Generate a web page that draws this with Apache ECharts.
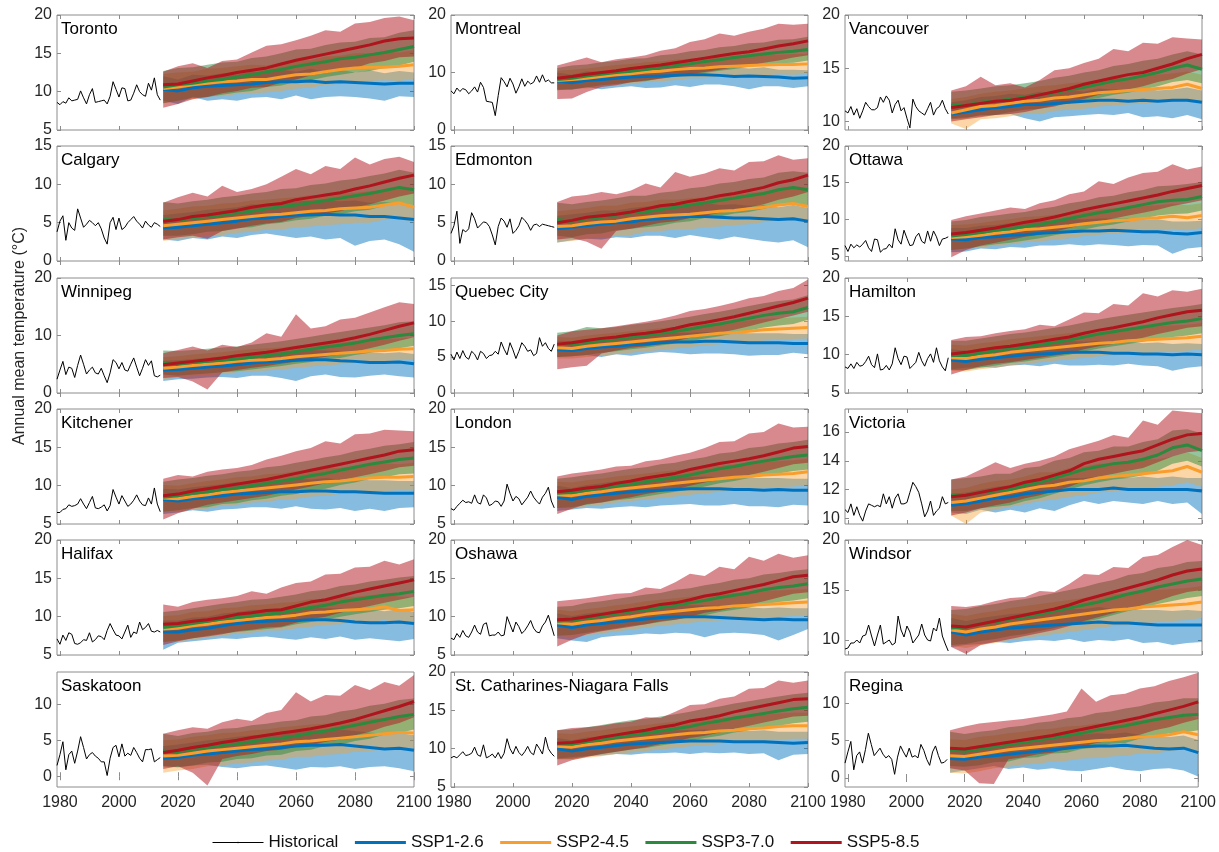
<!DOCTYPE html>
<html>
<head>
<meta charset="utf-8">
<script src="https://cdn.jsdelivr.net/npm/echarts@6/dist/echarts.min.js"></script>
<style>
  html, body { margin: 0; padding: 0; background: #fff; }
  #chart { width: 1219px; height: 852px; }
</style>
</head>
<body>
<div id="chart"></div>
<script>
// ---- Years ----
const YEARS_HIST = [1979,1980,1981,1982,1983,1984,1985,1986,1987,1988,1989,1990,1991,1992,1993,1994,1995,1996,1997,1998,1999,2000,2001,2002,2003,2004,2005,2006,2007,2008,2009,2010,2011,2012,2013,2014];
const YEARS_PROJ = [2015,2020,2025,2030,2035,2040,2045,2050,2055,2060,2065,2070,2075,2080,2085,2090,2095,2100];
const X_TICKS = [1980,2000,2020,2040,2060,2080,2100];
const SCENARIOS = ['SSP1-2.6','SSP2-4.5','SSP3-7.0','SSP5-8.5'];

// ---- Per-city data: historical annual means, scenario ensemble means and ranges (rows: SSP1-2.6, SSP2-4.5, SSP3-7.0, SSP5-8.5) ----
const TORONTO_HIST = [8.6,8.3,8.7,8.5,9.2,8.8,8.9,9.0,10.1,9.2,8.4,9.6,10.4,8.6,8.7,8.8,8.9,8.4,9.4,11.3,10.3,9.3,10.5,10.4,8.8,8.9,9.8,10.9,10.0,9.6,9.4,11.1,10.2,11.8,9.6,8.9];
const TORONTO_MEAN = [
 [10.3,10.1,10.5,10.7,10.8,10.9,11.0,11.2,11.3,11.3,11.4,11.2,11.3,11.2,11.1,11.0,11.1,11.1],
 [10.4,10.6,10.9,11.1,11.3,11.4,11.6,11.6,11.9,12.2,12.3,12.6,12.9,13.1,13.2,13.2,13.3,13.5],
 [10.6,10.9,11.1,11.4,11.6,11.9,12.2,12.6,12.9,13.3,13.6,13.9,14.3,14.5,14.8,15.1,15.5,15.9],
 [10.9,11.0,11.4,11.8,12.1,12.5,12.8,13.1,13.6,14.1,14.5,14.9,15.3,15.7,16.1,16.6,16.9,17.0]];
const TORONTO_LO = [
 [8.8,8.4,9.3,8.8,9.0,8.8,9.2,9.3,9.0,9.5,9.0,9.3,9.4,9.3,9.1,8.8,9.4,9.3],
 [8.5,8.8,9.0,9.4,9.4,9.7,9.8,9.9,10.1,10.4,10.5,10.9,11.0,11.3,11.4,11.5,11.4,11.7],
 [8.5,8.8,9.2,9.3,9.6,9.9,10.1,10.6,10.8,11.3,11.5,11.9,12.2,12.5,12.7,13.1,13.4,13.9],
 [7.9,8.4,9.0,9.3,9.8,10.1,10.5,10.6,11.2,11.6,12.1,12.4,12.9,13.1,13.7,14.0,14.5,14.6]];
const TORONTO_HI = [
 [12.0,11.6,12.2,12.1,12.4,12.2,12.6,12.5,12.9,12.6,13.0,12.6,12.9,12.5,12.8,12.4,12.7,12.5],
 [12.3,12.5,12.6,13.0,13.1,13.3,13.5,13.4,13.8,14.1,14.1,14.6,14.7,15.0,15.0,15.2,15.1,15.4],
 [12.7,13.1,13.2,13.5,13.8,13.9,14.4,14.6,15.0,15.5,15.6,16.1,16.4,16.5,17.0,17.1,17.7,18.0],
 [12.6,13.3,13.7,13.1,14.0,14.2,15.1,16.0,16.2,16.7,17.3,18.0,17.8,18.9,19.1,19.6,19.8,19.3]];

const MONTREAL_HIST = [6.8,6.3,7.3,6.7,7.2,7.0,6.3,6.8,7.5,6.6,8.3,7.4,5.0,4.9,4.8,2.5,6.0,9.1,8.4,7.5,9.0,8.0,6.4,7.5,8.9,7.6,8.5,8.0,8.3,9.4,8.3,9.6,8.4,8.7,8.2,8.2];
const MONTREAL_MEAN = [
 [8.5,8.2,8.6,8.8,9.0,9.2,9.3,9.4,9.5,9.6,9.6,9.5,9.3,9.4,9.3,9.2,9.0,9.1],
 [8.6,8.8,9.0,9.3,9.6,9.8,10.1,10.2,10.5,10.7,10.8,11.0,11.1,11.2,11.3,11.4,11.4,11.5],
 [8.8,9.0,9.4,9.7,10.0,10.2,10.5,10.9,11.2,11.5,11.9,12.2,12.6,12.9,13.2,13.5,13.7,14.0],
 [9.0,9.3,9.7,10.0,10.3,10.7,11.0,11.3,11.7,12.1,12.5,12.9,13.3,13.6,14.1,14.6,15.0,15.5]];
const MONTREAL_LO = [
 [7.1,7.0,7.5,7.1,7.4,7.6,7.3,7.4,7.8,7.5,7.9,7.9,7.6,7.1,7.6,7.6,7.3,7.6],
 [6.9,7.2,7.2,7.6,7.9,8.0,8.4,8.5,8.7,9.0,9.0,9.3,9.3,9.5,9.5,9.7,9.6,9.8],
 [6.9,7.1,7.4,7.8,8.0,8.3,8.5,9.0,9.2,9.6,9.9,10.3,10.6,11.0,11.2,11.6,11.7,12.1],
 [5.4,5.5,6.6,7.5,7.8,8.3,8.6,8.9,9.3,9.7,10.1,10.5,10.9,11.2,11.7,12.1,12.6,13.0]];
const MONTREAL_HI = [
 [10.0,9.6,10.2,10.1,10.5,10.5,10.8,10.6,11.0,10.9,11.1,10.8,10.9,10.7,10.9,10.5,10.5,10.4],
 [10.3,10.5,10.7,11.0,11.3,11.5,11.8,11.9,12.2,12.4,12.6,12.7,12.9,12.9,13.1,13.1,13.2,13.2],
 [10.8,11.2,11.4,11.8,12.0,12.4,12.5,13.0,13.2,13.7,13.9,14.4,14.6,15.1,15.2,15.7,15.8,16.2],
 [11.2,11.9,12.6,11.8,12.3,12.6,13.0,13.8,14.2,15.3,15.8,16.8,16.4,17.1,17.6,18.5,18.3,18.5]];

const VANCOUVER_HIST = [11.0,10.8,11.4,10.6,11.2,10.3,11.0,11.8,11.4,11.1,11.1,11.3,12.3,11.8,12.4,12.0,10.8,11.6,12.0,11.0,11.3,10.3,9.4,12.1,11.4,11.0,10.8,10.6,11.2,11.8,10.6,11.2,11.4,12.0,11.2,10.7];
const VANCOUVER_MEAN = [
 [10.7,10.9,11.1,11.3,11.4,11.6,11.6,11.7,11.8,11.9,12.0,12.0,11.9,12.0,11.9,12.0,12.0,11.8],
 [10.8,11.1,11.4,11.5,11.7,11.9,12.0,12.2,12.3,12.5,12.7,12.8,12.9,13.0,13.1,13.2,13.5,13.1],
 [11.5,11.5,11.8,11.9,12.1,12.3,12.5,12.7,13.0,13.2,13.5,13.8,14.0,14.3,14.6,15.0,15.3,14.9],
 [11.3,11.5,11.7,11.9,12.0,12.2,12.5,12.8,13.1,13.5,13.8,14.1,14.4,14.6,15.0,15.4,15.9,16.3]];
const VANCOUVER_LO = [
 [10.3,10.4,10.5,10.6,10.7,10.3,10.0,10.4,10.5,10.6,10.7,10.6,10.8,10.4,10.5,10.3,10.6,10.2],
 [9.8,9.3,10.2,10.3,10.5,10.7,10.7,11.0,11.1,11.2,11.4,11.5,11.6,11.7,11.8,11.9,12.1,11.8],
 [10.2,10.3,10.6,10.6,10.9,11.1,11.2,11.5,11.7,12.0,12.2,12.5,12.7,13.0,13.3,13.7,13.9,13.6],
 [10.0,10.2,10.4,10.6,10.7,10.9,11.2,11.4,11.8,12.1,12.5,12.8,13.0,13.3,13.7,14.0,14.5,14.9]];
const VANCOUVER_HI = [
 [11.8,12.0,12.3,12.4,12.6,12.5,12.8,12.7,13.0,12.8,13.1,13.0,13.0,13.1,12.9,13.0,13.2,12.9],
 [12.1,12.3,12.6,12.8,12.9,13.1,13.3,13.4,13.6,13.7,13.9,14.1,14.1,14.3,14.4,14.5,14.7,14.4],
 [12.8,12.9,13.1,13.3,13.4,13.6,13.8,14.1,14.3,14.6,14.8,15.2,15.4,15.7,15.9,16.3,16.6,16.3],
 [12.9,13.3,14.2,13.4,13.6,13.2,13.9,14.8,15.0,15.5,15.9,16.8,16.6,17.4,17.3,17.9,17.8,17.7]];

const CALGARY_HIST = [3.8,5.2,5.9,2.7,5.0,4.3,4.0,6.8,5.6,4.4,4.8,5.3,5.0,4.6,5.0,4.2,3.0,2.2,5.0,5.7,4.1,5.6,4.1,4.4,5.0,5.4,5.8,5.2,4.8,4.3,5.2,4.7,4.4,5.0,4.8,4.5];
const CALGARY_MEAN = [
 [4.3,4.4,4.6,4.8,5.0,5.2,5.5,5.6,5.8,6.0,6.0,6.1,6.0,6.0,5.8,5.8,5.6,5.4],
 [4.6,4.8,5.0,5.2,5.4,5.6,5.8,6.0,6.1,6.3,6.5,6.6,6.8,6.9,7.0,7.3,7.6,7.0],
 [5.4,5.3,5.6,5.8,6.0,6.3,6.5,6.8,7.1,7.3,7.6,7.9,8.2,8.5,8.8,9.2,9.6,9.3],
 [5.2,5.4,5.8,6.0,6.3,6.6,7.0,7.3,7.5,8.0,8.3,8.6,8.9,9.4,9.8,10.3,10.8,11.2]];
const CALGARY_LO = [
 [2.8,2.6,3.0,2.8,3.2,3.0,3.4,3.6,3.3,3.0,3.2,2.8,3.0,2.0,2.6,2.8,2.2,1.2],
 [2.6,2.9,3.0,3.3,3.4,3.7,3.8,4.1,4.1,4.4,4.5,4.7,4.8,5.0,5.0,5.4,5.6,5.0],
 [3.3,3.3,3.5,3.8,3.9,4.3,4.4,4.8,5.0,5.3,5.5,5.9,6.1,6.5,6.7,7.2,7.5,7.3],
 [2.8,3.1,3.3,2.9,3.9,4.2,4.6,4.9,5.1,5.6,5.9,6.2,6.5,7.0,7.4,7.9,8.4,8.8]];
const CALGARY_HI = [
 [6.0,6.2,6.4,6.7,6.8,7.0,7.4,7.3,7.7,7.8,7.9,7.9,7.8,7.9,7.6,7.7,7.5,7.3],
 [6.6,6.8,7.1,7.2,7.5,7.6,7.9,8.0,8.2,8.3,8.6,8.6,8.9,8.9,9.1,9.3,9.7,9.0],
 [7.7,7.5,7.8,8.0,8.3,8.5,8.8,9.0,9.4,9.5,9.9,10.1,10.5,10.7,11.1,11.4,11.9,11.5],
 [7.6,8.3,8.9,8.4,9.8,9.0,9.4,10.0,11.0,12.0,11.3,12.4,12.0,13.5,12.6,13.3,13.6,12.9]];

const EDMONTON_HIST = [3.6,4.6,6.5,2.3,4.1,3.8,4.2,6.3,5.5,4.3,4.7,5.1,5.0,4.5,3.4,2.1,4.5,5.6,5.2,4.4,5.5,3.6,4.0,4.6,5.7,5.3,4.8,4.0,4.7,4.8,4.5,4.8,4.7,4.6,4.5,4.4];
const EDMONTON_MEAN = [
 [4.2,4.4,4.6,4.8,5.0,5.1,5.4,5.5,5.7,5.8,5.8,5.7,5.6,5.6,5.5,5.4,5.5,5.2],
 [4.5,4.6,4.9,5.1,5.2,5.5,5.7,5.9,6.0,6.1,6.3,6.5,6.6,6.8,7.0,7.3,7.5,7.1],
 [5.4,5.2,5.5,5.7,6.0,6.3,6.4,6.7,7.0,7.3,7.6,7.9,8.2,8.5,8.8,9.3,9.6,9.3],
 [5.0,5.3,5.7,5.9,6.1,6.4,6.8,7.2,7.4,7.8,8.1,8.5,8.8,9.2,9.6,10.2,10.6,11.2]];
const EDMONTON_LO = [
 [2.4,2.7,2.9,2.8,3.1,3.0,3.3,3.3,3.0,3.4,3.1,2.8,3.2,2.9,2.6,2.4,2.7,1.8],
 [2.4,2.6,2.9,3.0,3.3,3.4,3.8,3.9,4.1,4.1,4.4,4.5,4.7,4.8,5.1,5.3,5.5,5.1],
 [3.3,3.1,3.5,3.6,4.0,4.2,4.4,4.6,5.0,5.2,5.6,5.8,6.2,6.4,6.8,7.2,7.6,7.2],
 [2.8,3.0,2.5,1.6,3.9,4.2,4.6,5.0,5.2,5.6,5.9,6.3,6.6,7.0,7.4,8.0,8.4,9.0]];
const EDMONTON_HI = [
 [5.9,6.1,6.3,6.6,6.6,6.9,7.1,7.1,7.4,7.4,7.6,7.3,7.4,7.2,7.3,7.0,7.3,6.9],
 [6.5,6.7,6.9,7.2,7.2,7.6,7.7,8.0,8.0,8.2,8.3,8.6,8.6,8.9,9.0,9.4,9.5,9.2],
 [7.6,7.4,7.7,7.9,8.2,8.5,8.5,8.9,9.1,9.5,9.7,10.1,10.3,10.7,10.9,11.5,11.7,11.5],
 [7.7,8.4,8.6,9.0,8.7,9.2,10.1,9.6,11.6,11.0,11.4,12.1,11.8,12.9,13.0,13.8,13.2,13.4]];

const OTTAWA_HIST = [6.4,5.6,6.6,6.1,6.5,6.2,6.6,7.1,6.1,5.6,7.3,7.2,5.5,5.9,6.0,6.6,6.1,8.7,7.2,6.6,8.5,7.4,6.4,6.5,7.6,8.1,7.0,6.7,8.4,7.0,8.4,7.6,6.4,7.3,7.4,7.6];
const OTTAWA_MEAN = [
 [7.3,7.2,7.5,7.6,7.8,7.9,8.1,8.2,8.3,8.4,8.4,8.5,8.4,8.3,8.3,8.1,8.0,8.2],
 [7.5,7.6,7.8,8.1,8.3,8.6,8.7,8.9,9.1,9.4,9.6,9.8,9.9,10.1,10.2,10.4,10.2,10.5],
 [7.7,7.9,8.2,8.5,8.7,9.0,9.3,9.7,10.1,10.5,10.9,11.2,11.6,12.0,12.4,12.6,12.7,13.1],
 [8.0,8.2,8.5,8.8,9.2,9.6,9.9,10.3,10.8,11.3,11.7,12.1,12.5,12.9,13.3,13.8,14.2,14.6]];
const OTTAWA_LO = [
 [5.5,5.6,6.0,5.9,6.2,6.1,6.4,6.4,6.6,6.4,6.6,6.5,6.3,6.5,6.4,5.3,6.0,6.2],
 [5.8,6.0,6.1,6.4,6.6,6.9,7.0,7.2,7.4,7.7,7.9,8.1,8.2,8.4,8.5,8.7,8.5,8.8],
 [5.8,6.0,6.3,6.6,6.8,7.1,7.4,7.8,8.2,8.6,9.0,9.3,9.7,10.1,10.5,10.7,10.8,11.2],
 [4.8,5.8,6.4,6.8,7.2,7.6,7.9,8.3,8.8,9.3,9.7,10.1,10.5,10.9,11.3,11.8,12.2,12.6]];
const OTTAWA_HI = [
 [8.8,8.8,9.1,9.2,9.5,9.5,9.8,9.8,10.0,10.0,10.1,10.1,10.1,9.9,10.0,9.7,9.7,9.8],
 [9.2,9.3,9.5,9.8,10.0,10.3,10.4,10.6,10.8,11.1,11.3,11.5,11.6,11.8,11.9,12.1,11.9,12.2],
 [9.7,9.9,10.3,10.5,10.8,11.0,11.4,11.7,12.2,12.5,13.0,13.2,13.7,14.0,14.5,14.6,14.8,15.1],
 [9.9,10.4,10.8,11.2,11.6,11.4,12.2,12.6,13.4,13.8,15.2,14.8,15.7,16.3,16.5,17.5,16.8,17.2]];

const WINNIPEG_HIST = [2.4,4.0,5.5,3.2,4.5,4.3,2.7,4.8,6.6,5.0,3.3,4.0,4.5,3.5,3.3,4.3,3.0,1.8,3.5,5.8,5.3,4.2,5.3,4.0,3.8,5.0,6.1,4.5,3.0,4.3,5.8,4.8,5.6,3.0,2.8,3.1];
const WINNIPEG_MEAN = [
 [4.0,4.1,4.3,4.5,4.7,4.9,5.2,5.4,5.5,5.7,5.8,5.8,5.6,5.5,5.3,5.3,5.4,5.1],
 [4.3,4.5,4.8,5.0,5.2,5.5,5.7,5.8,6.0,6.3,6.5,6.7,6.9,7.1,7.3,7.4,7.6,7.7],
 [5.3,5.1,5.3,5.5,5.7,5.9,6.2,6.5,6.8,7.2,7.6,8.0,8.3,8.7,9.2,9.6,10.0,10.3],
 [4.9,5.2,5.5,5.8,6.1,6.5,6.8,7.1,7.5,7.9,8.3,8.7,9.1,9.6,10.2,10.9,11.6,12.2]];
const WINNIPEG_LO = [
 [2.1,2.4,2.5,2.7,2.8,2.6,3.0,3.0,2.6,2.1,2.9,3.2,2.8,2.7,3.0,3.2,2.9,2.7],
 [2.4,2.7,2.9,3.1,3.3,3.6,3.8,3.9,4.1,4.4,4.6,4.8,5.0,5.2,5.4,5.5,5.7,5.8],
 [3.2,3.0,3.2,3.4,3.6,3.8,4.1,4.4,4.7,5.1,5.4,5.9,6.1,6.6,7.0,7.5,7.8,8.2],
 [2.6,2.8,2.0,0.6,3.6,4.0,4.4,4.7,5.1,5.5,5.9,6.3,6.7,7.2,7.8,8.4,9.1,9.7]];
const WINNIPEG_HI = [
 [5.6,5.7,5.9,6.1,6.4,6.5,6.9,7.0,7.2,7.3,7.5,7.4,7.3,7.1,7.1,6.9,7.1,6.8],
 [6.2,6.4,6.7,6.9,7.1,7.4,7.6,7.8,7.9,8.2,8.4,8.6,8.8,9.0,9.2,9.3,9.5,9.6],
 [7.4,7.3,7.5,7.7,7.9,8.1,8.4,8.7,9.0,9.4,9.8,10.2,10.6,11.0,11.4,11.8,12.3,12.5],
 [6.9,7.5,8.1,7.4,8.4,8.0,8.8,10.4,9.8,13.7,11.2,11.6,12.8,13.1,14.0,14.9,15.8,15.5]];

const QUEBEC_HIST = [5.4,4.6,5.7,4.8,5.9,5.0,4.7,5.8,5.4,4.6,5.8,5.5,4.8,5.2,5.3,5.8,5.4,7.1,6.1,5.3,7.0,6.0,4.8,5.8,7.0,6.5,5.8,6.0,5.2,5.5,7.7,6.5,7.0,6.2,5.8,6.8];
const QUEBEC_MEAN = [
 [6.0,5.9,6.2,6.4,6.5,6.7,6.8,7.0,7.1,7.1,7.2,7.2,7.1,7.0,7.0,7.0,6.9,6.9],
 [6.3,6.2,6.5,6.7,6.9,7.1,7.3,7.5,7.7,7.9,8.1,8.3,8.4,8.6,8.8,8.9,9.0,9.1],
 [6.7,6.8,7.0,7.3,7.5,7.8,8.0,8.3,8.6,8.9,9.3,9.6,10.0,10.4,10.8,11.1,11.3,11.9],
 [6.8,7.0,7.3,7.6,7.8,8.1,8.3,8.6,9.0,9.5,9.8,10.2,10.6,11.1,11.6,12.1,12.6,13.2]];
const QUEBEC_LO = [
 [5.0,5.1,5.3,5.0,5.4,5.2,5.5,5.7,5.6,5.4,5.5,5.5,5.4,5.2,5.3,5.3,5.6,5.4],
 [4.8,4.8,5.0,5.2,5.4,5.6,5.8,6.0,6.2,6.4,6.6,6.8,6.9,7.1,7.3,7.4,7.5,7.6],
 [5.0,5.1,5.3,5.6,5.8,6.1,6.3,6.6,6.9,7.2,7.6,7.9,8.3,8.7,9.1,9.4,9.6,10.2],
 [3.3,3.6,3.8,5.5,5.9,6.3,6.5,6.8,7.2,7.7,8.0,8.4,8.8,9.3,9.8,10.3,10.8,11.3]];
const QUEBEC_HI = [
 [7.3,7.2,7.5,7.7,7.8,8.0,8.1,8.3,8.4,8.4,8.5,8.5,8.4,8.3,8.3,8.3,8.2,8.2],
 [7.8,7.7,8.0,8.2,8.4,8.6,8.8,9.0,9.2,9.4,9.6,9.8,9.9,10.1,10.3,10.4,10.5,10.6],
 [8.4,8.6,9.2,9.0,9.2,9.5,9.7,10.0,10.3,10.6,11.0,11.3,11.7,12.1,12.5,12.8,13.0,13.6],
 [8.0,8.6,8.8,9.0,9.3,9.6,9.9,10.3,10.8,11.4,11.7,12.1,12.6,13.2,13.5,14.2,14.6,15.8]];

const HAMILTON_HIST = [8.4,8.2,8.8,8.2,9.0,8.5,8.6,9.1,9.8,8.7,8.3,10.1,8.0,8.1,8.6,8.0,8.8,10.9,9.5,8.7,9.8,9.7,8.2,8.6,9.0,10.3,9.2,8.5,9.5,10.1,9.0,10.9,9.2,8.4,7.9,9.6];
const HAMILTON_MEAN = [
 [9.3,9.1,9.4,9.6,9.8,10.0,10.1,10.2,10.3,10.3,10.3,10.2,10.2,10.1,10.1,10.0,10.1,10.0],
 [9.6,9.5,9.8,10.0,10.3,10.5,10.7,10.9,11.1,11.3,11.5,11.6,11.8,11.9,12.0,12.1,12.2,12.4],
 [9.9,9.9,10.2,10.5,10.8,11.0,11.3,11.6,11.9,12.3,12.7,13.0,13.3,13.6,13.9,14.2,14.4,14.7],
 [10.1,10.3,10.6,10.9,11.1,11.4,11.7,12.0,12.3,12.8,13.2,13.5,13.9,14.3,14.8,15.2,15.6,15.8]];
const HAMILTON_LO = [
 [8.1,8.3,8.4,8.3,8.6,8.7,8.5,8.8,8.6,8.6,8.7,8.6,8.8,8.6,8.5,7.9,8.3,8.5],
 [7.9,7.8,8.1,8.3,8.6,8.8,9.0,9.2,9.4,9.6,9.8,9.9,10.1,10.2,10.3,10.4,10.5,10.7],
 [8.0,8.0,8.3,8.6,8.9,9.1,9.4,9.7,10.0,10.4,10.8,11.1,11.4,11.7,12.0,12.3,12.5,12.8],
 [7.4,8.0,8.5,8.8,9.0,9.3,9.6,9.9,10.2,10.7,11.1,11.4,11.8,12.2,12.7,13.1,13.5,13.7]];
const HAMILTON_HI = [
 [10.7,10.5,10.8,11.0,11.3,11.4,11.6,11.6,11.8,11.7,11.8,11.6,11.7,11.5,11.6,11.4,11.5,11.4],
 [11.3,11.2,11.5,11.7,12.0,12.2,12.4,12.6,12.8,13.0,13.2,13.3,13.5,13.6,13.7,13.8,13.9,14.1],
 [11.8,11.8,12.1,12.4,12.7,12.9,13.2,13.5,13.8,14.2,14.6,14.9,15.2,15.5,15.8,16.1,16.3,16.6],
 [11.9,12.3,12.4,12.8,13.1,13.3,13.9,13.7,14.6,15.5,15.4,16.6,16.4,18.0,17.6,18.4,18.2,18.6]];

const KITCHENER_HIST = [6.5,6.5,6.9,7.0,7.5,7.3,7.4,7.6,8.3,7.6,7.0,7.8,8.6,7.1,7.0,7.2,7.5,6.7,7.4,9.5,8.5,7.6,8.7,8.0,7.3,7.6,8.1,8.8,8.0,7.5,7.4,8.4,7.6,9.7,7.6,6.6];
const KITCHENER_MEAN = [
 [8.2,8.0,8.3,8.5,8.7,8.9,9.0,9.1,9.2,9.2,9.3,9.3,9.2,9.2,9.1,9.0,9.0,9.0],
 [8.4,8.3,8.6,8.8,9.1,9.3,9.5,9.7,9.9,10.1,10.3,10.5,10.6,10.8,11.0,11.1,11.1,11.2],
 [8.5,8.7,9.0,9.2,9.5,9.7,10.0,10.3,10.6,10.9,11.3,11.6,12.0,12.4,12.8,13.1,13.4,13.6],
 [8.7,8.9,9.3,9.6,9.9,10.2,10.5,10.8,11.2,11.6,12.0,12.4,12.8,13.2,13.6,14.0,14.5,14.7]];
const KITCHENER_LO = [
 [6.3,6.5,6.8,6.6,6.9,7.0,7.2,7.2,7.0,7.3,7.0,6.9,7.1,6.7,7.0,6.7,7.1,7.2],
 [6.7,6.6,6.9,7.0,7.4,7.5,7.8,7.9,8.2,8.3,8.6,8.7,8.9,9.0,9.3,9.3,9.4,9.4],
 [6.6,6.8,7.1,7.2,7.6,7.7,8.1,8.3,8.7,8.9,9.4,9.6,10.1,10.4,10.9,11.1,11.5,11.6],
 [5.6,6.4,7.0,7.5,7.8,8.1,8.4,8.7,9.1,9.5,9.9,10.3,10.7,11.1,11.5,11.9,12.4,12.6]];
const KITCHENER_HI = [
 [9.6,9.5,9.8,10.0,10.2,10.5,10.5,10.7,10.7,10.9,10.8,11.0,10.8,10.9,10.7,10.7,10.6,10.6],
 [10.1,10.0,10.3,10.6,10.8,11.1,11.2,11.5,11.6,11.9,12.0,12.3,12.3,12.6,12.7,12.9,12.8,13.0],
 [10.5,10.8,11.0,11.3,11.5,11.8,12.0,12.4,12.6,13.0,13.3,13.7,14.0,14.5,14.8,15.2,15.4,15.7],
 [10.9,11.4,11.2,11.8,12.1,12.3,12.7,13.4,13.9,14.5,14.9,15.8,15.5,16.7,16.8,17.3,17.2,17.1]];

const LONDON_HIST = [7.0,6.8,7.3,7.7,8.1,7.8,7.9,7.7,8.8,7.8,7.6,8.8,8.4,7.4,7.6,8.0,7.9,7.3,8.0,10.2,9.0,8.0,8.6,8.3,7.5,8.0,8.5,9.3,8.5,8.0,7.6,8.5,9.0,9.8,8.0,7.1];
const LONDON_MEAN = [
 [8.5,8.2,8.6,8.8,9.0,9.2,9.3,9.4,9.5,9.6,9.6,9.6,9.5,9.5,9.4,9.5,9.4,9.4],
 [8.8,8.7,9.0,9.2,9.5,9.7,9.9,10.1,10.3,10.5,10.7,10.9,11.1,11.2,11.4,11.5,11.6,11.8],
 [9.0,9.1,9.4,9.7,10.0,10.2,10.5,10.8,11.1,11.4,11.8,12.2,12.5,12.9,13.2,13.5,13.8,14.0],
 [9.2,9.4,9.7,9.9,10.3,10.6,11.0,11.3,11.6,12.1,12.5,12.9,13.2,13.5,13.9,14.4,14.9,15.1]];
const LONDON_LO = [
 [6.7,6.9,7.1,7.0,7.2,7.3,7.2,7.4,7.5,7.6,7.4,7.4,7.6,7.3,7.3,7.2,7.5,7.4],
 [7.1,7.0,7.3,7.5,7.8,8.0,8.2,8.4,8.6,8.8,9.0,9.2,9.4,9.5,9.7,9.8,9.9,10.1],
 [7.1,7.2,7.5,7.8,8.1,8.3,8.6,8.9,9.2,9.5,9.9,10.3,10.6,11.0,11.3,11.6,11.9,12.1],
 [6.3,7.0,7.6,7.8,8.2,8.5,8.9,9.2,9.5,10.0,10.4,10.8,11.1,11.4,11.8,12.3,12.8,13.0]];
const LONDON_HI = [
 [10.0,9.7,10.1,10.3,10.6,10.7,10.9,10.9,11.1,11.1,11.2,11.1,11.1,11.0,11.0,11.0,10.9,10.9],
 [10.5,10.4,10.7,10.9,11.2,11.4,11.6,11.8,12.0,12.2,12.4,12.6,12.8,12.9,13.1,13.2,13.3,13.5],
 [10.9,11.1,11.4,11.6,11.9,12.2,12.4,12.8,13.0,13.4,13.7,14.2,14.4,14.9,15.1,15.5,15.7,16.0],
 [11.2,11.6,11.8,12.1,12.5,12.6,13.2,13.4,13.9,14.3,14.9,15.7,15.8,16.8,17.0,18.1,17.6,17.7]];

const VICTORIA_HIST = [10.6,10.4,11.0,10.2,10.8,10.2,9.8,10.5,11.0,10.9,10.8,10.9,10.8,11.7,11.0,11.5,10.7,11.4,11.7,11.0,11.0,11.1,11.8,12.5,12.2,11.8,11.0,10.1,10.5,11.2,10.2,10.5,10.7,11.5,11.0,11.1];
const VICTORIA_MEAN = [
 [10.9,11.0,11.2,11.4,11.5,11.7,11.8,11.9,12.0,12.0,12.0,12.1,12.0,12.0,12.0,12.0,12.0,11.9],
 [11.1,11.2,11.4,11.6,11.8,12.0,12.2,12.3,12.5,12.6,12.8,12.9,13.0,13.1,13.2,13.3,13.6,13.2],
 [11.6,11.6,11.8,11.9,12.0,12.3,12.5,12.8,13.1,13.4,13.6,13.8,13.9,14.1,14.4,14.9,15.1,14.7],
 [11.5,11.6,11.8,12.0,12.2,12.5,12.7,13.0,13.3,13.8,14.1,14.3,14.5,14.7,15.1,15.5,15.8,15.9]];
const VICTORIA_LO = [
 [10.4,10.3,10.6,10.4,10.6,10.4,10.7,10.5,10.9,11.2,11.0,11.2,11.1,11.0,11.2,11.0,11.1,10.3],
 [10.2,9.6,10.4,10.6,10.8,11.0,11.2,11.3,11.5,11.6,11.8,11.9,12.0,12.1,12.2,12.3,12.5,12.2],
 [10.5,10.5,10.7,10.8,10.9,11.2,11.4,11.7,12.0,12.3,12.5,12.7,12.8,13.0,13.3,13.8,14.0,13.6],
 [10.2,10.4,10.7,10.9,11.1,11.4,11.6,11.9,12.2,12.6,12.9,13.1,13.3,13.5,13.9,14.3,14.6,14.7]];
const VICTORIA_HI = [
 [11.7,11.8,12.0,12.2,12.3,12.5,12.6,12.7,12.8,12.8,12.9,12.9,12.8,12.9,12.8,12.9,12.8,12.8],
 [12.0,12.1,12.4,12.6,12.7,12.9,13.2,13.2,13.5,13.6,13.8,13.8,14.0,14.1,14.1,14.3,14.6,14.2],
 [12.7,12.8,12.9,13.1,13.1,13.5,13.6,14.0,14.2,14.6,14.7,15.0,15.0,15.3,15.5,16.1,16.2,15.9],
 [12.7,12.9,13.4,13.9,13.5,13.8,14.0,14.3,14.8,15.1,15.4,15.8,15.6,16.8,16.5,17.5,17.4,17.3]];

const HALIFAX_HIST = [7.1,6.4,7.6,6.9,7.9,7.7,6.5,6.4,6.6,7.0,6.9,7.9,6.7,7.0,7.5,7.4,7.0,8.2,9.1,8.3,7.6,7.5,7.1,8.0,8.9,7.3,8.0,7.8,9.3,8.3,8.6,9.1,8.1,8.0,8.2,8.0];
const HALIFAX_MEAN = [
 [8.0,8.0,8.3,8.5,8.8,9.1,9.3,9.4,9.5,9.5,9.6,9.6,9.5,9.3,9.2,9.2,9.3,9.1],
 [8.4,8.5,8.8,9.0,9.3,9.5,9.7,9.9,10.0,10.2,10.5,10.6,10.8,10.9,11.0,11.3,10.8,10.9],
 [8.6,8.8,9.1,9.4,9.7,9.9,10.1,10.3,10.5,10.9,11.2,11.5,11.9,12.2,12.5,12.8,13.0,13.3],
 [9.0,9.1,9.4,9.6,9.9,10.3,10.5,10.8,10.9,11.4,11.9,12.2,12.7,13.2,13.6,14.0,14.4,14.8]];
const HALIFAX_LO = [
 [5.7,6.6,6.8,7.0,7.2,7.1,7.3,7.4,7.2,7.0,7.3,7.1,7.4,7.0,7.2,7.0,6.8,7.1],
 [6.7,6.8,7.0,7.3,7.5,7.8,7.9,8.2,8.2,8.5,8.7,8.9,9.0,9.2,9.2,9.6,9.0,9.2],
 [6.7,6.9,7.2,7.5,7.8,8.0,8.2,8.4,8.6,9.0,9.3,9.6,10.0,10.3,10.6,10.9,11.1,11.4],
 [6.3,6.8,7.2,7.4,7.7,8.1,8.3,8.6,8.7,9.2,9.7,10.0,10.5,11.0,11.4,11.8,12.2,12.6]];
const HALIFAX_HI = [
 [9.5,9.5,9.9,10.0,10.4,10.6,10.9,10.9,11.1,11.0,11.2,11.1,11.1,10.8,10.9,10.7,11.0,10.6],
 [10.1,10.2,10.6,10.7,11.1,11.2,11.5,11.6,11.8,11.9,12.3,12.3,12.6,12.6,12.8,13.0,12.6,12.6],
 [10.6,10.8,11.1,11.4,11.7,11.9,12.2,12.3,12.6,12.9,13.3,13.5,14.0,14.2,14.6,14.8,15.1,15.3],
 [11.6,11.3,11.9,12.2,12.4,12.7,13.3,13.0,13.8,14.4,14.6,15.5,15.6,16.4,16.5,17.3,16.8,17.5]];

const OSHAWA_HIST = [7.2,7.0,7.8,7.3,8.2,7.5,7.3,8.0,8.9,8.0,7.7,9.0,9.2,7.5,7.6,7.6,8.0,7.5,7.6,10.0,9.0,8.0,9.3,8.7,7.8,8.2,8.8,9.5,8.5,8.0,7.9,8.8,9.3,10.2,8.8,7.5];
const OSHAWA_MEAN = [
 [8.9,8.6,8.9,9.1,9.3,9.5,9.7,9.9,10.0,10.0,10.0,9.9,9.8,9.7,9.6,9.7,9.6,9.6],
 [9.2,9.0,9.3,9.5,9.8,10.0,10.3,10.5,10.7,10.9,11.1,11.2,11.4,11.5,11.6,11.7,11.8,11.9],
 [9.4,9.5,9.8,10.1,10.4,10.7,10.9,11.2,11.5,11.8,12.1,12.5,12.8,13.1,13.5,13.8,14.0,14.3],
 [9.6,9.7,10.0,10.3,10.6,10.9,11.2,11.6,11.8,12.2,12.7,13.0,13.4,13.8,14.2,14.7,15.2,15.4]];
const OSHAWA_LO = [
 [7.2,6.9,6.7,7.3,7.5,7.6,7.8,7.7,7.9,7.8,7.3,7.8,7.9,7.8,7.6,6.9,7.6,8.4],
 [7.5,7.3,7.6,7.8,8.1,8.3,8.6,8.8,9.0,9.2,9.4,9.5,9.7,9.8,9.9,10.0,10.1,10.2],
 [7.5,7.6,7.9,8.2,8.5,8.8,9.0,9.3,9.6,9.9,10.2,10.6,10.9,11.2,11.6,11.9,12.1,12.4],
 [6.1,7.0,7.7,8.1,8.4,8.7,9.0,9.4,9.6,10.0,10.5,10.8,11.2,11.6,12.0,12.5,13.0,13.2]];
const OSHAWA_HI = [
 [10.4,10.1,10.4,10.6,10.8,11.0,11.2,11.4,11.5,11.5,11.5,11.4,11.3,11.2,11.1,11.2,11.1,11.1],
 [10.9,10.7,11.0,11.2,11.5,11.7,12.0,12.2,12.4,12.6,12.8,12.9,13.1,13.2,13.3,13.4,13.5,13.6],
 [11.3,11.4,11.8,12.0,12.3,12.6,12.9,13.1,13.5,13.7,14.1,14.4,14.8,15.0,15.5,15.7,16.0,16.2],
 [12.0,12.2,12.4,12.7,13.0,13.1,13.8,13.6,14.5,15.6,15.3,16.5,16.2,17.8,17.3,18.2,17.7,18.0]];

const WINDSOR_HIST = [9.1,9.2,9.7,9.7,10.0,9.7,10.4,10.5,11.5,10.4,9.4,10.5,11.5,9.6,9.8,10.0,9.5,9.7,12.4,11.0,10.3,11.4,10.8,9.7,10.1,10.5,11.6,10.5,10.0,9.9,11.2,10.9,12.2,10.4,9.6,8.9];
const WINDSOR_MEAN = [
 [10.8,10.5,10.8,11.0,11.2,11.3,11.4,11.5,11.6,11.7,11.8,11.7,11.7,11.6,11.5,11.5,11.5,11.5],
 [11.0,10.8,11.1,11.3,11.6,11.8,12.0,12.2,12.4,12.6,12.8,13.0,13.1,13.3,13.4,13.5,13.6,13.8],
 [11.2,11.3,11.6,11.8,12.1,12.3,12.6,12.9,13.2,13.5,13.8,14.2,14.6,14.9,15.3,15.6,15.9,16.1],
 [11.4,11.3,11.6,11.9,12.2,12.5,12.8,13.1,13.5,14.0,14.4,14.8,15.2,15.6,16.0,16.5,16.9,17.1]];
const WINDSOR_LO = [
 [9.3,9.5,9.6,9.8,9.7,9.9,10.0,9.9,10.1,9.8,10.0,9.9,10.1,9.7,9.8,9.5,9.7,9.8],
 [9.4,9.2,9.5,9.7,10.0,10.2,10.4,10.6,10.8,11.0,11.2,11.4,11.5,11.7,11.8,11.9,12.0,12.2],
 [9.5,9.6,9.9,10.1,10.4,10.6,10.9,11.2,11.5,11.8,12.1,12.5,12.9,13.2,13.6,13.9,14.2,14.4],
 [9.3,8.6,9.5,9.8,10.1,10.4,10.7,11.0,11.4,11.9,12.3,12.7,13.1,13.5,13.9,14.4,14.8,15.0]];
const WINDSOR_HI = [
 [12.2,11.9,12.2,12.4,12.6,12.7,12.9,12.9,13.1,13.1,13.3,13.1,13.2,13.0,13.0,12.9,13.0,12.9],
 [12.6,12.4,12.7,12.9,13.2,13.4,13.6,13.8,14.0,14.2,14.4,14.6,14.7,14.9,15.0,15.1,15.2,15.4],
 [13.0,13.1,13.4,13.6,13.9,14.1,14.4,14.7,15.0,15.3,15.7,16.0,16.5,16.7,17.2,17.4,17.8,17.9],
 [13.4,13.3,13.5,13.9,14.2,14.3,14.9,14.8,15.6,16.6,16.5,17.3,17.2,18.3,18.5,19.3,20.0,19.5]];

const SASKATOON_HIST = [1.5,3.0,4.8,0.9,3.0,3.5,1.8,3.5,5.5,4.0,2.4,3.0,3.3,2.8,2.5,2.0,2.0,0.1,2.5,4.0,4.3,2.7,4.5,2.8,3.2,2.9,4.0,3.3,2.5,2.0,3.7,3.7,3.8,2.0,2.3,2.6];
const SASKATOON_MEAN = [
 [2.5,2.6,2.9,3.1,3.3,3.5,3.7,3.8,4.0,4.2,4.3,4.3,4.4,4.2,4.0,3.8,3.9,3.6],
 [2.8,2.9,3.2,3.5,3.7,3.9,4.1,4.3,4.5,4.8,4.9,5.1,5.3,5.5,5.7,5.9,6.1,6.0],
 [3.6,3.4,3.7,4.0,4.3,4.5,4.8,5.1,5.3,5.6,6.0,6.3,6.7,7.1,7.5,7.9,8.3,8.6],
 [3.3,3.6,4.0,4.3,4.7,5.0,5.4,5.7,6.0,6.3,6.6,7.0,7.4,7.9,8.5,9.1,9.7,10.4]];
const SASKATOON_LO = [
 [1.4,1.2,1.5,1.6,1.3,1.1,1.4,1.5,1.2,0.9,1.3,1.2,1.4,1.0,1.3,1.4,1.1,0.7],
 [0.5,0.8,1.0,1.4,1.5,1.8,1.9,2.2,2.3,2.7,2.7,3.0,3.1,3.4,3.5,3.8,3.9,3.9],
 [1.4,1.3,1.5,1.9,2.0,2.4,2.5,2.9,3.0,3.5,3.7,4.2,4.4,4.9,5.2,5.8,6.0,6.5],
 [1.0,1.4,0.5,-1.3,2.4,2.8,3.1,3.5,3.7,4.1,4.3,4.8,5.1,5.7,6.2,6.9,7.4,8.2]];
const SASKATOON_HI = [
 [4.2,4.4,4.7,5.0,5.2,5.5,5.7,5.8,6.1,6.3,6.4,6.4,6.5,6.3,6.1,5.9,6.0,5.7],
 [5.0,5.1,5.5,5.7,6.0,6.1,6.4,6.5,6.8,7.0,7.2,7.3,7.6,7.7,8.0,8.1,8.4,8.2],
 [5.9,5.6,6.0,6.2,6.6,6.7,7.1,7.3,7.6,7.8,8.3,8.5,9.0,9.3,9.8,10.1,10.6,10.8],
 [5.9,6.4,6.8,6.6,7.5,8.0,7.7,8.8,9.2,11.7,10.4,11.3,11.2,12.7,12.0,13.1,12.6,14.1]];

const STCATH_HIST = [8.8,9.0,8.8,9.2,9.6,9.1,9.2,9.4,10.2,9.2,9.0,10.5,8.8,9.0,9.3,8.8,9.5,8.7,9.4,11.3,10.0,9.3,10.3,9.5,9.1,9.6,10.3,9.5,9.2,10.6,10.0,9.3,11.5,10.0,9.4,9.0];
const STCATH_MEAN = [
 [10.0,9.7,10.0,10.2,10.4,10.6,10.7,10.8,10.9,11.0,11.0,11.0,10.9,10.9,10.9,10.8,10.7,10.8],
 [10.3,10.2,10.5,10.7,11.0,11.2,11.4,11.6,11.8,12.0,12.1,12.3,12.4,12.6,12.7,12.9,13.0,13.0],
 [10.6,10.6,10.9,11.2,11.5,11.8,12.0,12.3,12.6,12.9,13.3,13.6,14.0,14.3,14.6,14.9,15.2,15.4],
 [10.7,10.8,11.1,11.5,11.8,12.1,12.4,12.8,13.1,13.6,13.9,14.3,14.8,15.2,15.6,16.0,16.4,16.5]];
const STCATH_LO = [
 [8.7,8.9,9.0,9.1,9.3,9.2,9.4,9.4,9.5,9.3,9.5,9.4,9.5,9.3,9.4,8.5,9.2,9.3],
 [8.6,8.6,8.8,9.0,9.3,9.5,9.7,9.9,10.1,10.3,10.4,10.6,10.7,10.9,11.0,11.2,11.3,11.3],
 [8.7,8.7,9.0,9.3,9.6,9.9,10.1,10.4,10.7,11.0,11.4,11.7,12.1,12.4,12.7,13.0,13.3,13.5],
 [7.8,8.5,8.9,9.3,9.6,9.9,10.2,10.6,10.9,11.4,11.7,12.1,12.6,13.0,13.4,13.8,14.2,14.3]];
const STCATH_HI = [
 [11.4,11.1,11.5,11.6,11.9,12.0,12.2,12.2,12.4,12.4,12.5,12.4,12.4,12.3,12.4,12.2,12.2,12.2],
 [12.0,11.9,12.2,12.4,12.7,12.9,13.1,13.3,13.5,13.7,13.8,14.0,14.1,14.3,14.4,14.6,14.7,14.7],
 [12.4,12.5,12.8,13.1,13.4,13.7,13.9,14.2,14.5,14.8,15.2,15.5,15.9,16.2,16.5,16.8,17.1,17.3],
 [12.4,12.7,12.8,13.0,13.3,13.5,14.1,14.0,14.8,15.7,15.8,16.5,16.8,17.8,17.9,18.9,18.6,18.9]];

const REGINA_HIST = [2.0,3.5,4.9,1.1,3.0,3.5,2.0,3.8,6.0,4.5,3.0,3.5,4.0,3.2,2.7,3.0,2.5,0.5,2.8,4.3,3.5,2.8,4.0,2.8,3.0,2.7,4.5,3.7,2.5,1.7,3.5,4.3,3.0,2.0,2.1,2.5];
const REGINA_MEAN = [
 [2.6,2.5,2.8,3.0,3.2,3.4,3.6,3.8,4.0,4.2,4.3,4.3,4.4,4.2,4.0,3.9,4.0,3.4],
 [3.0,2.9,3.2,3.5,3.8,4.0,4.2,4.4,4.6,4.8,5.0,5.1,5.3,5.5,5.6,5.8,6.2,5.8],
 [3.8,3.6,3.9,4.2,4.5,4.8,5.1,5.4,5.7,6.0,6.4,6.7,7.0,7.4,7.8,8.1,8.4,8.5],
 [4.0,3.9,4.2,4.5,4.8,5.1,5.4,5.7,6.1,6.5,6.9,7.3,7.7,8.1,8.6,9.1,9.6,10.2]];
const REGINA_LO = [
 [0.7,1.0,1.3,1.6,1.2,1.4,1.1,1.3,1.0,0.9,1.2,1.5,1.1,0.9,1.2,1.3,1.0,0.2],
 [0.7,0.6,0.9,1.3,1.5,1.8,1.9,2.2,2.3,2.6,2.7,2.9,3.0,3.3,3.3,3.6,3.9,3.6],
 [1.6,1.5,1.7,2.1,2.2,2.7,2.8,3.3,3.4,3.9,4.1,4.6,4.7,5.3,5.5,6.0,6.1,6.4],
 [1.3,1.0,-0.7,-0.8,2.5,2.8,3.2,3.4,3.9,4.2,4.7,5.0,5.5,5.8,6.4,6.8,7.4,7.9]];
const REGINA_HI = [
 [4.1,4.0,4.4,4.6,4.8,5.0,5.3,5.4,5.7,5.8,6.0,5.9,6.1,5.8,5.7,5.5,5.7,5.1],
 [5.2,5.1,5.5,5.7,6.0,6.2,6.5,6.6,6.9,7.0,7.3,7.3,7.6,7.7,7.9,8.0,8.5,8.0],
 [6.2,5.9,6.2,6.4,6.8,7.0,7.4,7.6,8.0,8.2,8.7,8.9,9.3,9.6,10.1,10.3,10.7,10.7],
 [6.4,6.9,7.3,7.5,7.7,7.9,8.2,8.5,8.9,12.0,10.2,11.1,11.3,12.0,12.3,13.0,13.5,14.1]];

// ---- Panel layout (3 columns x 6 rows) ----
const COL_LEFT = [57, 451, 845];
const ROW_TOP = [15, 146, 278, 409, 540, 672];
const PANEL_W = 357, PANEL_H = 115;

const PANELS = [
  {name:'Toronto', row:0, col:0, min:5, max:20, ticks:[5,10,15,20], hist:TORONTO_HIST, mean:TORONTO_MEAN, lo:TORONTO_LO, hi:TORONTO_HI},
  {name:'Montreal', row:0, col:1, min:0, max:20, ticks:[0,10,20], hist:MONTREAL_HIST, mean:MONTREAL_MEAN, lo:MONTREAL_LO, hi:MONTREAL_HI},
  {name:'Vancouver', row:0, col:2, min:9.2, max:20, ticks:[10,15,20], hist:VANCOUVER_HIST, mean:VANCOUVER_MEAN, lo:VANCOUVER_LO, hi:VANCOUVER_HI},
  {name:'Calgary', row:1, col:0, min:0, max:15, ticks:[0,5,10,15], hist:CALGARY_HIST, mean:CALGARY_MEAN, lo:CALGARY_LO, hi:CALGARY_HI},
  {name:'Edmonton', row:1, col:1, min:0, max:15, ticks:[0,5,10,15], hist:EDMONTON_HIST, mean:EDMONTON_MEAN, lo:EDMONTON_LO, hi:EDMONTON_HI},
  {name:'Ottawa', row:1, col:2, min:4.3, max:20, ticks:[5,10,15,20], hist:OTTAWA_HIST, mean:OTTAWA_MEAN, lo:OTTAWA_LO, hi:OTTAWA_HI},
  {name:'Winnipeg', row:2, col:0, min:0, max:20, ticks:[0,10,20], hist:WINNIPEG_HIST, mean:WINNIPEG_MEAN, lo:WINNIPEG_LO, hi:WINNIPEG_HI},
  {name:'Quebec City', row:2, col:1, min:0, max:16, ticks:[0,5,10,15], hist:QUEBEC_HIST, mean:QUEBEC_MEAN, lo:QUEBEC_LO, hi:QUEBEC_HI},
  {name:'Hamilton', row:2, col:2, min:5, max:20, ticks:[5,10,15,20], hist:HAMILTON_HIST, mean:HAMILTON_MEAN, lo:HAMILTON_LO, hi:HAMILTON_HI},
  {name:'Kitchener', row:3, col:0, min:5, max:20, ticks:[5,10,15,20], hist:KITCHENER_HIST, mean:KITCHENER_MEAN, lo:KITCHENER_LO, hi:KITCHENER_HI},
  {name:'London', row:3, col:1, min:5, max:20, ticks:[5,10,15,20], hist:LONDON_HIST, mean:LONDON_MEAN, lo:LONDON_LO, hi:LONDON_HI},
  {name:'Victoria', row:3, col:2, min:9.6, max:17.6, ticks:[10,12,14,16], hist:VICTORIA_HIST, mean:VICTORIA_MEAN, lo:VICTORIA_LO, hi:VICTORIA_HI},
  {name:'Halifax', row:4, col:0, min:5, max:20, ticks:[5,10,15,20], hist:HALIFAX_HIST, mean:HALIFAX_MEAN, lo:HALIFAX_LO, hi:HALIFAX_HI},
  {name:'Oshawa', row:4, col:1, min:5, max:20, ticks:[5,10,15,20], hist:OSHAWA_HIST, mean:OSHAWA_MEAN, lo:OSHAWA_LO, hi:OSHAWA_HI},
  {name:'Windsor', row:4, col:2, min:8.5, max:20, ticks:[10,15,20], hist:WINDSOR_HIST, mean:WINDSOR_MEAN, lo:WINDSOR_LO, hi:WINDSOR_HI},
  {name:'Saskatoon', row:5, col:0, min:-1.5, max:14.5, ticks:[0,5,10], hist:SASKATOON_HIST, mean:SASKATOON_MEAN, lo:SASKATOON_LO, hi:SASKATOON_HI},
  {name:'St. Catharines-Niagara Falls', row:5, col:1, min:5, max:20, ticks:[5,10,15,20], hist:STCATH_HIST, mean:STCATH_MEAN, lo:STCATH_LO, hi:STCATH_HI},
  {name:'Regina', row:5, col:2, min:-1.2, max:14.2, ticks:[0,5,10], hist:REGINA_HIST, mean:REGINA_MEAN, lo:REGINA_LO, hi:REGINA_HI}
];

// ---- Styling ----
const LINE_COLORS = ['#0072BD', '#F99D2C', '#2B8A3E', '#B0141D'];
const BAND_COLORS = ['rgba(0,114,189,0.48)', 'rgba(249,157,44,0.42)', 'rgba(43,138,62,0.5)', 'rgba(176,20,29,0.5)'];
const FRAME = '#8c8c8c';
const LABEL_COLOR = '#262626';
const FONT = 'Arial, "Liberation Sans", Helvetica, sans-serif';

const chart = echarts.init(document.getElementById('chart'));
const grid = [], xAxis = [], yAxis = [], series = [], title = [];
const plain = v => String(v);

PANELS.forEach((p, i) => {
  const left = COL_LEFT[p.col], top = ROW_TOP[p.row];
  grid.push({left, top, width: PANEL_W, height: PANEL_H, show: true,
             borderColor: FRAME, borderWidth: 1, backgroundColor: '#fff'});
  const tickStyle = {show: true, inside: true, length: 4, lineStyle: {color: FRAME, width: 1}};
  const isBottom = p.row === 5;
  xAxis.push({gridIndex: i, type: 'value', min: 1979, max: 2100, position: 'bottom',
    axisLine: {show: false}, splitLine: {show: false},
    axisTick: Object.assign({customValues: X_TICKS}, tickStyle),
    axisLabel: {show: isBottom, customValues: X_TICKS, formatter: plain, margin: 8,
                color: LABEL_COLOR, fontSize: 16, fontFamily: FONT}});
  xAxis.push({gridIndex: i, type: 'value', min: 1979, max: 2100, position: 'top',
    axisLine: {show: false}, splitLine: {show: false},
    axisTick: Object.assign({customValues: X_TICKS}, tickStyle),
    axisLabel: {show: false}});
  yAxis.push({gridIndex: i, type: 'value', min: p.min, max: p.max, position: 'left',
    axisLine: {show: false}, splitLine: {show: false},
    axisTick: Object.assign({customValues: p.ticks}, tickStyle),
    axisLabel: {customValues: p.ticks, formatter: plain, margin: 5,
                color: LABEL_COLOR, fontSize: 16, fontFamily: FONT}});
  yAxis.push({gridIndex: i, type: 'value', min: p.min, max: p.max, position: 'right',
    axisLine: {show: false}, splitLine: {show: false},
    axisTick: Object.assign({customValues: p.ticks}, tickStyle),
    axisLabel: {show: false}});

  title.push({text: p.name, left: left - 1, top: top + 1, padding: 5,
    textStyle: {fontSize: 17, fontWeight: 'normal', color: '#000', fontFamily: FONT}});

  const xi = 2 * i, yi = 2 * i;

  // ensemble ranges
  for (let s = 0; s < 4; s++) {
    const lo = p.lo[s], hi = p.hi[s];
    series.push({
      type: 'custom', name: SCENARIOS[s] + ' range', xAxisIndex: xi, yAxisIndex: yi,
      silent: true, z: 1, clip: true,
      data: YEARS_PROJ.map((y, k) => [y, lo[k], hi[k]]),
      encode: {x: 0, y: [1, 2]},
      renderItem: (params, api) => {
        if (params.dataIndex !== 0) return null;
        const pts = [];
        for (let k = 0; k < YEARS_PROJ.length; k++) pts.push(api.coord([YEARS_PROJ[k], hi[k]]));
        for (let k = YEARS_PROJ.length - 1; k >= 0; k--) pts.push(api.coord([YEARS_PROJ[k], lo[k]]));
        return {type: 'polygon', shape: {points: pts}, style: {fill: BAND_COLORS[s]}};
      }
    });
  }

  // historical record
  series.push({type: 'line', name: 'Historical', xAxisIndex: xi, yAxisIndex: yi, z: 3,
    data: YEARS_HIST.map((y, k) => [y, p.hist[k]]),
    symbol: 'none', silent: true, lineStyle: {color: '#000', width: 1}, itemStyle: {color: '#000'}});

  // ensemble means
  for (let s = 0; s < 4; s++) {
    series.push({type: 'line', name: SCENARIOS[s], xAxisIndex: xi, yAxisIndex: yi, z: 4,
      data: YEARS_PROJ.map((y, k) => [y, p.mean[s][k]]),
      symbol: 'none', silent: true,
      lineStyle: {color: LINE_COLORS[s], width: 3}, itemStyle: {color: LINE_COLORS[s]}});
  }
});

chart.setOption({
  animation: false,
  backgroundColor: '#fff',
  grid, xAxis, yAxis, series, title,
  legend: {
    data: [{name: 'Historical', lineStyle: {width: 1}}].concat(
      SCENARIOS.map(n => ({name: n, lineStyle: {width: 3}}))),
    left: 207, top: 829, itemWidth: 51, itemHeight: 2, itemGap: 15,
    selectedMode: false,
    textStyle: {fontSize: 17, color: '#111', fontFamily: FONT}
  },
  graphic: [{
    type: 'text', x: 20, y: 336, rotation: Math.PI / 2,
    style: {text: 'Annual mean temperature (°C)', fill: LABEL_COLOR, font: '16px ' + FONT,
            textAlign: 'center', textVerticalAlign: 'middle'}
  }]
});
</script>
</body>
</html>
